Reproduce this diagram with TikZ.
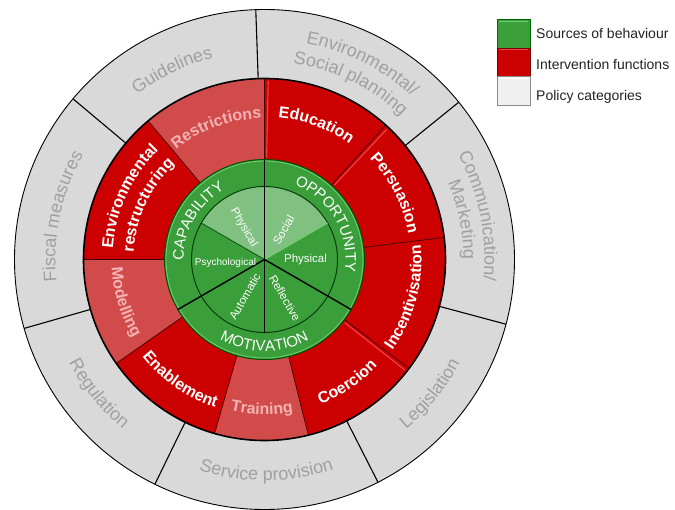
\documentclass[tikz,border=0pt]{standalone}
\usepackage{fontspec}
\setmainfont{Liberation Sans}
\usetikzlibrary{decorations.text}
\definecolor{pgray}{HTML}{D9D9D9}
\definecolor{pgtext}{HTML}{A0A0A0}
\definecolor{ired}{HTML}{CC0000}
\definecolor{ilred}{HTML}{D24B4B}
\definecolor{iltext}{HTML}{F3B3B3}
\definecolor{sgreen}{HTML}{3A9E3A}
\definecolor{slgreen}{HTML}{80C080}
\definecolor{hlgreen}{HTML}{70D070}
\definecolor{hlred}{HTML}{F04040}
\definecolor{legtext}{HTML}{222222}
% annular sector: start, end, r-in, r-out, style
\newcommand\annsec[5]{\path[#5] (#1:#3) arc[start angle=#1,end angle=#2,radius=#3] -- (#2:#4) arc[start angle=#2,end angle=#1,radius=#4] -- cycle;}
% clockwise text (tops outward): angle, baseline radius, font, colour, text
\newcommand\cwlabel[5]{\path[decorate,decoration={text along path,text align=center,text color=#4,text={|#3|#5}}] ({#1+70}:#2) arc[start angle={#1+70},end angle={#1-70},radius=#2];}
% counter-clockwise text (tops inward)
\newcommand\ccwlabel[5]{\path[decorate,decoration={text along path,text align=center,text color=#4,text={|#3|#5}}] ({#1-70}:#2) arc[start angle={#1-70},end angle={#1+70},radius=#2];}
\tikzset{
  graysep/.style={draw=black,line width=1.1pt},
  redsep/.style={draw=black!75!red,line width=0.7pt},
  greensep/.style={draw=black,line width=1.4pt},
  pielabel/.style={text=white,inner sep=0pt,font=\fontsize{11.5}{11.5}\selectfont},
  legbox/.style={minimum width=33pt,minimum height=28.5pt,inner sep=0pt,line width=0.8pt},
  legtxt/.style={anchor=west,inner sep=0pt,text=legtext,font=\fontsize{14}{14}\selectfont}
}
\newcommand\grayfont{\fontsize{18}{18}\selectfont}
\newcommand\redfont{\bfseries\fontsize{16}{16}\selectfont}
\newcommand\greenfont{\fontsize{15}{15}\selectfont}
\begin{document}
\begin{tikzpicture}[x=1pt,y=1pt]
\useasboundingbox (-264.5,-249.5) rectangle (410.5,259.5);
% policy ring
\fill[pgray] (0,0) circle[radius=250];
\foreach \a in {92,39,-15,-63,-116,196,140} \draw[graysep] (\a:181) -- (\a:250);
\draw[black,line width=0.9pt] (0,0) circle[radius=250];
% intervention ring
\annsec{90}{48}{100}{181}{fill=ired}
\annsec{48}{7}{100}{181}{fill=ired}
\annsec{7}{-37}{100}{181}{fill=ired}
\annsec{-37}{-76}{100}{181}{fill=ired}
\annsec{-76}{-106}{100}{181}{fill=ilred}
\annsec{-106}{-145}{100}{181}{fill=ired}
\annsec{-145}{-180}{100}{181}{fill=ilred}
\annsec{180}{130}{100}{181}{fill=ired}
\annsec{130}{90}{100}{181}{fill=ilred}
\foreach \a in {88.8,46.8,-38.2,-104.8} \draw[hlred,line width=1.2pt] (\a:102) -- (\a:179);
\foreach \a in {90,48,7,-37,-76,-106,-145,180,130} \draw[redsep] (\a:100) -- (\a:181);
\draw[black,line width=1.6pt] (0,0) circle[radius=181];
% sources ring
\fill[sgreen] (0,0) circle[radius=100];
\draw[black!70!green,line width=1pt] (0,0) circle[radius=100];
\draw[hlgreen,line width=0.8pt] (0,0) circle[radius=98.5];
\annsec{30}{90}{0}{73}{fill=slgreen}
\annsec{90}{150}{0}{73}{fill=slgreen}
\draw[black!80!green,line width=0.9pt] (0,0) circle[radius=73];
\draw[hlgreen,line width=1pt] (0,0) -- (30:73);
\draw[black!70!green,line width=0.7pt] (0,0) -- (150:73);
\draw[black,line width=1pt] (0,0) -- (270:73);
\foreach \a in {90,210,330} \draw[greensep] (0,0) -- (\a:100);
% policy labels
\cwlabel{116}{208}{\grayfont}{pgtext}{Guidelines}
\cwlabel{63.5}{220}{\grayfont}{pgtext}{Environmental/}
\cwlabel{64}{198}{\grayfont}{pgtext}{Social planning}
\cwlabel{11.5}{220}{\grayfont}{pgtext}{Communication/}
\cwlabel{11.5}{199}{\grayfont}{pgtext}{Marketing}
\ccwlabel{-39}{221}{\grayfont}{pgtext}{Legislation}
\ccwlabel{-89.5}{221}{\grayfont}{pgtext}{Service provision}
\ccwlabel{-141}{221}{\grayfont}{pgtext}{Regulation}
\cwlabel{168}{209}{\grayfont}{pgtext}{Fiscal measures}
% intervention labels
\cwlabel{69}{143}{\redfont}{white}{Education}
\cwlabel{27}{146}{\redfont}{white}{Persuasion}
\ccwlabel{-15}{157}{\redfont}{white}{Incentivisation}
\ccwlabel{-56}{155}{\redfont}{white}{Coercion}
\ccwlabel{-91}{155}{\redfont}{iltext}{Training}
\ccwlabel{-125}{156}{\redfont}{white}{Enablement}
\ccwlabel{-163}{153}{\redfont}{iltext}{Modelling}
\cwlabel{155}{152}{\redfont}{white}{Environmental}
\cwlabel{155}{131}{\redfont}{white}{restructuring}
\cwlabel{110}{141}{\redfont}{iltext}{Restrictions}
% sources labels
\cwlabel{150}{81}{\greenfont}{white}{CAPABILITY}
\cwlabel{30}{81}{\greenfont}{white}{OPPORTUNITY}
\ccwlabel{270}{91.5}{\greenfont}{white}{MOTIVATION}
% component labels
\node[pielabel,rotate=-60] (cphys) at (123:38) {Physical};
\node[pielabel,rotate=60] (osoc) at (57:35) {Social};
\node[pielabel] (ophys) at (41,0) {Physical};
\node[pielabel,font=\fontsize{10}{10}\selectfont] (cpsy) at (-39,-3) {Psychological};
\node[pielabel,rotate=60] (mauto) at (242:42) {Automatic};
\node[pielabel,rotate=-60] (mrefl) at (-62:43.5) {Reflective};
% legend
\node[legbox,fill=sgreen,draw=black!60!green] (lgreen) at (249,225.5) {};
\node[legbox,fill=ired,draw=black!55!red] (lred) at (249,197) {};
\node[legbox,fill=black!6,draw=black!45] (lgray) at (249,168.5) {};
\draw[hlgreen,line width=0.8pt] ([shift={(2,-2)}]lgreen.north west) -- ([shift={(-2,-2)}]lgreen.north east);
\draw[hlred,line width=0.8pt] ([shift={(2,-2)}]lred.north west) -- ([shift={(-2,-2)}]lred.north east);
\draw[white,line width=0.8pt] ([shift={(2,-2)}]lgray.north west) -- ([shift={(-2,-2)}]lgray.north east);
\node[legtxt] (tgreen) at (271.5,226.5) {Sources of behaviour};
\node[legtxt] (tred) at (271.5,195.5) {Intervention functions};
\node[legtxt] (tgray) at (271.5,163) {Policy categories};
\end{tikzpicture}
\end{document}
